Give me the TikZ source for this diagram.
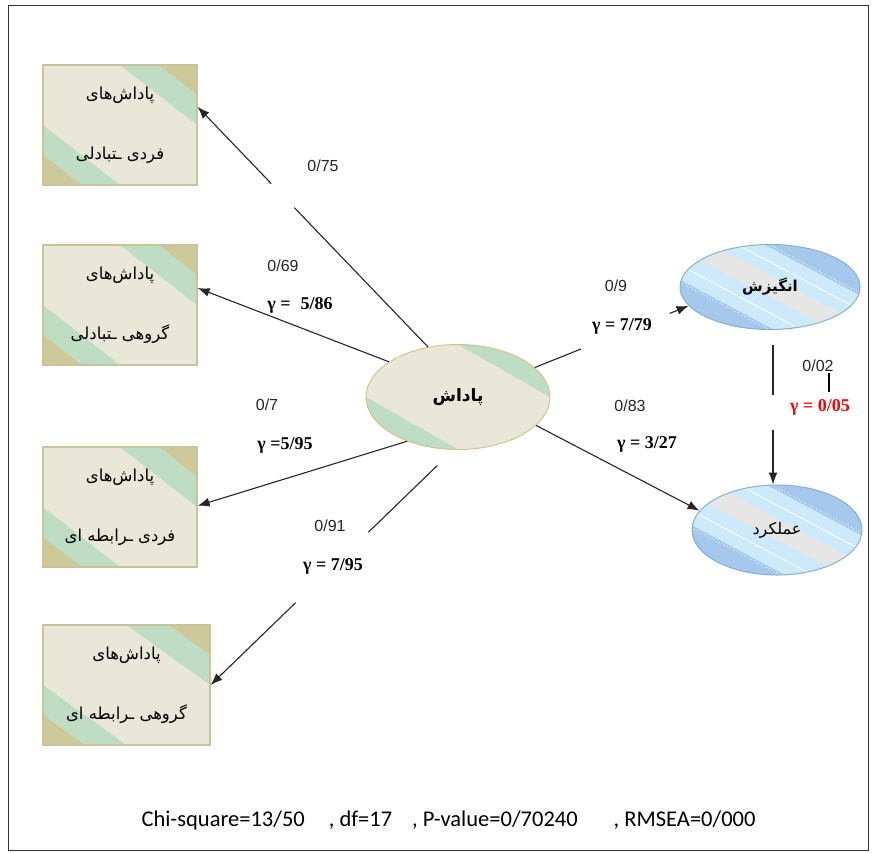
\documentclass[tikz,border=0pt]{standalone}
\usepackage{fontspec}
\usetikzlibrary{calc,shapes.geometric,arrows.meta,backgrounds}
\TeXXeTstate=1
\newfontfamily\fa[Script=Arabic]{DejaVu Sans}
\newfontfamily\lsans{Liberation Sans}
\newfontfamily\lserif{Liberation Serif}
\newfontfamily\carl{Carlito}
\definecolor{beige}{HTML}{E9E8D8}
\definecolor{mint}{HTML}{BEDDC2}
\definecolor{khaki}{HTML}{CEC99A}
\definecolor{tanline}{HTML}{C9C39C}
\definecolor{bdark}{HTML}{A6C8EC}
\definecolor{blight}{HTML}{CDEAFA}
\definecolor{bgray}{HTML}{E6E6E6}
\definecolor{bborder}{HTML}{86B4C6}
\definecolor{gborder}{HTML}{D2C68E}
\definecolor{shadowc}{HTML}{9A9A92}
\newcommand\bandpoly[3]{%
  \fill[#1] ($(cc)+(208:230)+(118:#2)$) -- ($(cc)+(28:230)+(118:#2)$)
        -- ($(cc)+(28:230)+(118:#3)$) -- ($(cc)+(208:230)+(118:#3)$) -- cycle;}
\newcommand\bandline[2]{%
  \draw[white, line width=0.8pt, #1] ($(cc)+(208:230)+(118:#2)$) -- ($(cc)+(28:230)+(118:#2)$);}
\tikzset{
  rbox/.style={draw=tanline, line width=1.2pt, fill=beige, minimum width=#1,
    minimum height=120pt, inner sep=0pt, align=center,
    font=\fa\fontsize{16.5}{60}\selectfont,
    path picture={
      \path (path picture bounding box.north west) coordinate (q1)
            (path picture bounding box.north east) coordinate (q2)
            (path picture bounding box.south east) coordinate (q3)
            (path picture bounding box.south west) coordinate (q4);
      \fill[khaki] ($(q1)!0.75!(q2)$) -- (q2) -- ($(q2)!0.25!(q3)$) -- cycle;
      \fill[mint] ($(q1)!0.5!(q2)$) -- ($(q1)!0.75!(q2)$) -- ($(q2)!0.25!(q3)$) -- ($(q2)!0.5!(q3)$) -- cycle;
      \fill[mint] ($(q1)!0.5!(q4)$) -- ($(q1)!0.75!(q4)$) -- ($(q4)!0.25!(q3)$) -- ($(q4)!0.5!(q3)$) -- cycle;
      \fill[khaki] ($(q1)!0.75!(q4)$) -- (q4) -- ($(q4)!0.25!(q3)$) -- cycle;
    }},
  gell/.style={ellipse, draw=gborder, line width=1pt, fill=beige,
    minimum width=184pt, minimum height=105pt, inner sep=0pt,
    font=\fa\bfseries\fontsize{17}{18}\selectfont,
    path picture={
      \path (path picture bounding box.north west) coordinate (q1)
            (path picture bounding box.north east) coordinate (q2)
            (path picture bounding box.south east) coordinate (q3)
            (path picture bounding box.south west) coordinate (q4);
      \fill[mint] ($(q1)!0.5!(q2)$) -- (q2) -- ($(q2)!0.5!(q3)$) -- cycle;
      \fill[mint] ($(q1)!0.5!(q4)$) -- (q4) -- ($(q4)!0.5!(q3)$) -- cycle;
    }},
  bell/.style 2 args={ellipse, draw=bborder, line width=1pt, fill=blight,
    minimum width=#1, minimum height=#2, inner sep=0pt,
    font=\fa\fontsize{16}{18}\selectfont,
    path picture={
      \coordinate (cc) at (path picture bounding box.center);
      \bandpoly{bdark}{-200}{-35}
      \bandpoly{bdark}{36}{200}
      \bandpoly{bgray}{-10}{9}
      \bandline{}{-22}
      \bandline{}{23}
      \bandline{dotted}{-37}
      \bandline{dotted}{38}
    }},
  smalllab/.style={inner sep=1pt, font=\lsans\fontsize{16}{18}\selectfont, text=black!85},
  gamlab/.style={inner sep=1pt, font=\lserif\bfseries\fontsize{18}{20}\selectfont},
  plainline/.style={line width=1.1pt, black!85},
  conn/.style={plainline, -{Latex[length=12pt,width=9pt]}},
}
\begin{document}
\begin{tikzpicture}[x=1pt,y=-1pt]
\useasboundingbox (0,0) rectangle (877,852);
\fill[white] (0,0) rectangle (877,852);
\draw[line width=1.3pt, black!80] (8.5,5.5) rectangle (868.5,850.5);

% boxes
\node[rbox=154pt] (b1) at (120,125) {\beginR پاداش‌های\endR\\\beginR فردی ـتبادلی\endR};
\node[rbox=154pt] (b2) at (120,305) {\beginR پاداش‌های\endR\\\beginR گروهی ـتبادلی\endR};
\node[rbox=154pt] (b3) at (120,507) {\beginR پاداش‌های\endR\\\beginR فردی ـرابطه ای\endR};
\node[rbox=167pt] (b4) at (126.5,685) {\beginR پاداش‌های\endR\\\beginR گروهی ـرابطه ای\endR};

% ellipses
\node[gell] (c) at (458,397) {\beginR پاداش\endR};
\node[bell={180pt}{85pt}, font=\fa\bfseries\fontsize{15}{18}\selectfont] (m) at (770,287) {\beginR انگیزش\endR};
\node[bell={170pt}{90pt}] (p) at (777,530) {\beginR عملکرد\endR};

% shadows
\begin{scope}[on background layer]
  \foreach \n in {b1,b2,b3,b4}{
    \fill[shadowc] ($(\n.north west)+(3,3)$) rectangle ($(\n.south east)+(3,3)$);
  }
  \fill[shadowc!70] ($(c.center)+(1.5,2)$) ellipse [x radius=92, y radius=52.5];
  \fill[shadowc!70] ($(m.center)+(1.5,2)$) ellipse [x radius=90, y radius=42.5];
  \fill[shadowc!70] ($(p.center)+(1.5,2)$) ellipse [x radius=85, y radius=45];
\end{scope}

% entry points on boxes
\coordinate (b1in) at ($(b1.north east)!0.35!(b1.south east)$);
\coordinate (b2in) at ($(b2.north east)!0.36!(b2.south east)$);
\coordinate (b3in) at ($(b3.north east)!0.49!(b3.south east)$);
\coordinate (b4in) at ($(b4.north east)!0.50!(b4.south east)$);

% connector to b1 (broken)
\path (c.121) -- (b1in) coordinate[pos=0.58] (g1a) coordinate[pos=0.68] (g1b);
\draw[plainline] (c.121) -- (g1a);
\draw[conn] (g1b) -- (b1in);
% connector to b2
\draw[conn] (c.153) -- (b2in);
% connector to b3
\draw[conn] (c.221) -- (b3in);
% connector to b4 (broken)
\path (c.265) -- (b4in) coordinate[pos=0.066] (g4a) coordinate[pos=0.35] (g4b)
      coordinate[pos=0.65] (g4c);
\draw[plainline] (g4a) -- (g4b);
\draw[conn] (g4c) -- (b4in);
% connector to m (broken)
\path (c.21) -- (m.193) coordinate[pos=0.30] (g5a) coordinate[pos=0.877] (g5b);
\draw[plainline] (c.21) -- (g5a);
\draw[conn] (g5b) -- (m.193);
% connector to p
\draw[conn] (c.-20) -- (p.166);
% m to p (broken)
\coordinate (v1) at ($(m.south)+(3,15)$);
\coordinate (v2) at ($(m.south)+(3,65)$);
\coordinate (v3) at ($(m.south)+(3,100)$);
\draw[plainline] (v1) -- (v2);
\draw[conn] (v3) -- (v3 |- p.north);

% labels
\node[smalllab] (l1) at (323,166) {0/75};
\node[smalllab] (l2) at (283,266) {0/69};
\node[gamlab] (k2) at (300,305) {γ =\hspace{10pt}5/86};
\node[smalllab] (l3) at (267,405) {0/7};
\node[gamlab] (k3) at (285,445) {γ =5/95};
\node[smalllab] (l4) at (330,526) {0/91};
\node[gamlab] (k4) at (333,566) {γ = 7/95};
\node[smalllab] (l5) at (616,286) {0/9};
\node[gamlab] (k5) at (622,326) {γ = 7/79};
\node[smalllab] (l6) at (630,406) {0/83};
\node[gamlab] (k6) at (647,444) {γ = 3/27};
\node[smalllab] (l7) at (818,366) {0/02};
\node[gamlab, text=red] (k7) at (820,407) {γ = 0/05};
\draw[line width=2.6pt] (829,373) -- (829,392);

\node[font=\carl\fontsize{22.5}{26}\selectfont] (fit) at (448.5,820)
  {Chi-square=13/50\hspace{24pt}, df=17\hspace{20pt}, P-value=0/70240\hspace{36pt}, RMSEA=0/000};
\end{tikzpicture}
\end{document}
